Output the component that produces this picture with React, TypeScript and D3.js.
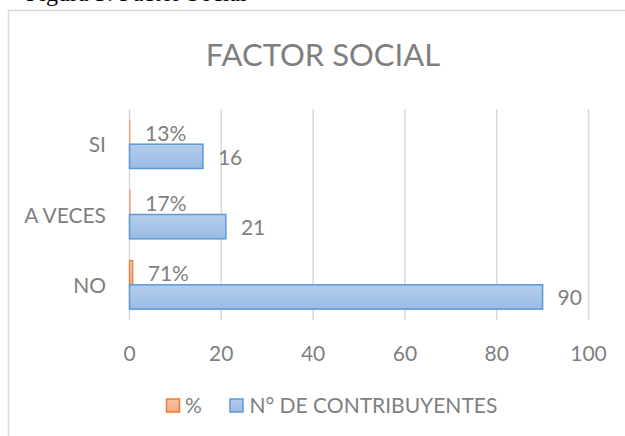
import React from "react";
import * as d3 from "d3";

const categories = ["SI", "A VECES", "NO"];
const contribuyentes = [16, 21, 90];
const percent = [0.13, 0.17, 0.71];
const percentLabels = ["13%", "17%", "71%"];
const xTicks = [0, 20, 40, 60, 80, 100];
const seriesNames = ["%", "N° DE CONTRIBUYENTES"];
const title = "FACTOR SOCIAL";
const caption = "Figura 3: Factor Social";

const W = 625;
const H = 436;
const FONT = "Lato, 'Open Sans', sans-serif";
const TXT = "#7f7f7f";

export default function App() {
  const x = d3.scaleLinear().domain([0, 100]).range([129.5, 588.5]);
  const y = d3.scaleBand<string>().domain(categories).range([109, 320]).padding(0);
  const inner = d3
    .scaleBand<string>()
    .domain(["pct", "num"])
    .range([0, y.bandwidth()])
    .paddingInner(0)
    .paddingOuter(0.446);

  return (
    <svg
      width={W}
      height={H}
      style={{ position: "absolute", left: 0, top: 0, background: "#fff" }}
    >
      <defs>
        <linearGradient id="gBlue" x1="0" y1="0" x2="0" y2="1">
          <stop offset="0" stopColor="#b5cdeb" />
          <stop offset="1" stopColor="#9abbe4" />
        </linearGradient>
        <linearGradient id="gOrange" x1="0" y1="0" x2="0" y2="1">
          <stop offset="0" stopColor="#f7c3a5" />
          <stop offset="1" stopColor="#f2ad88" />
        </linearGradient>
      </defs>
      <rect width={W} height={H} fill="#fff" />
      <text
        x={26}
        y={1}
        fontFamily="'Liberation Serif', 'Times New Roman', serif"
        fontSize={24}
        fill="#000"
      >
        {caption}
      </text>
      <rect x={8.5} y={10.5} width={800} height={600} fill="#fff" stroke="#d9d9d9" strokeWidth={1.5} />
      <text x={323} y={66} textAnchor="middle" fontFamily={FONT} fontSize={31} fill={TXT}>
        {title}
      </text>
      {xTicks.map((t) => (
        <g key={t}>
          <line x1={x(t)} x2={x(t)} y1={109} y2={320} stroke="#d9d9d9" strokeWidth={1.5} />
          <text x={x(t)} y={360.5} textAnchor="middle" fontFamily={FONT} fontSize={21} fill={TXT}>
            {t}
          </text>
        </g>
      ))}
      {categories.map((c, i) => {
        const by = y(c)!;
        const pY = by + inner("pct")!;
        const nY = by + inner("num")!;
        const bh = inner.bandwidth();
        const pw = x(percent[i]) - x(0);
        const nw = x(contribuyentes[i]) - x(0);
        return (
          <g key={c}>
            <text
              x={106}
              y={by + y.bandwidth() / 2 + 8}
              textAnchor="end"
              fontFamily={FONT}
              fontSize={21}
              fill={TXT}
            >
              {c}
            </text>
            <rect x={x(0)} y={pY} width={pw} height={bh} fill="url(#gOrange)" stroke="#ed7d31" strokeWidth={pw < 2 ? 0.6 : 1.2} strokeOpacity={pw < 2 ? 0.6 : 1} />
            <rect x={x(0)} y={nY} width={nw} height={bh} fill="url(#gBlue)" stroke="#5b9bd5" strokeWidth={1.5} />
            <text x={x(percent[i]) + 15} y={pY + bh / 2 + 8.5} fontFamily={FONT} fontSize={21} fill={TXT}>
              {percentLabels[i]}
            </text>
            <text x={x(contribuyentes[i]) + 15} y={nY + bh / 2 + 8.5} fontFamily={FONT} fontSize={21} fill={TXT}>
              {contribuyentes[i]}
            </text>
          </g>
        );
      })}
      <g>
        <rect x={166.5} y={399} width={13} height={13} fill="url(#gOrange)" stroke="#ed7d31" strokeWidth={1.5} />
        <text x={185} y={413} fontFamily={FONT} fontSize={21} fill={TXT}>
          {seriesNames[0]}
        </text>
        <rect x={230} y={399} width={13} height={13} fill="url(#gBlue)" stroke="#5b9bd5" strokeWidth={1.5} />
        <text x={249.5} y={413} fontFamily={FONT} fontSize={21} fill={TXT}>
          {seriesNames[1]}
        </text>
      </g>
    </svg>
  );
}
